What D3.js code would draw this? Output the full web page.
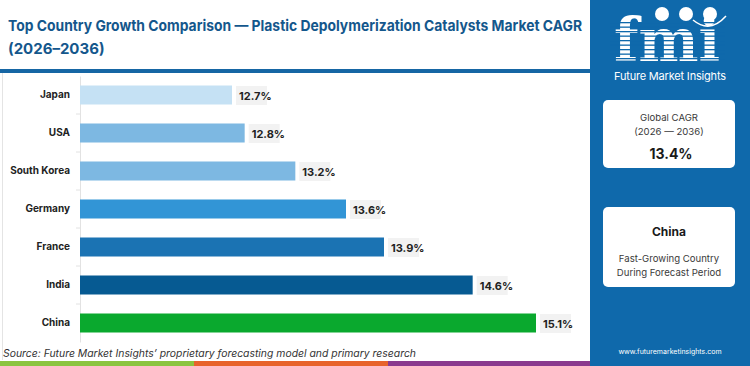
<!DOCTYPE html>
<html>
<head>
<meta charset="utf-8">
<script src="https://cdn.jsdelivr.net/npm/d3@7"></script>
<style>
  body { margin: 0; background: #fff; }
  svg { display: block; font-family: Inter, "Noto Sans", sans-serif; }
</style>
</head>
<body>
<svg id="chart" width="750" height="366"></svg>
<script>
// data
const countries = ["Japan", "USA", "South Korea", "Germany", "France", "India", "China"];
const cagr = [12.7, 12.8, 13.2, 13.6, 13.9, 14.6, 15.1];
const barColors = ["#c5e1f4", "#7db8e2", "#7db8e2", "#3295d6", "#1b73b3", "#065a92", "#0aa92e"];
const globalCagr = "13.4%";
const topCountry = "China";

const svg = d3.select("#chart");
const panelBlue = "#0f69ab";

// title
const title = svg.append("text")
  .attr("fill", "#14578c")
  .style("font-size", "15px").style("font-weight", 700);
title.append("tspan").attr("x", 8).attr("y", 31)
  .attr("textLength", 574).attr("lengthAdjust", "spacingAndGlyphs")
  .text("Top Country Growth Comparison \u2014 Plastic Depolymerization Catalysts Market CAGR");
title.append("tspan").attr("x", 8).attr("y", 54).text("(2026\u20132036)");

svg.append("rect").attr("x", 0).attr("y", 69).attr("width", 590).attr("height", 4).attr("fill", "#1666a4");
svg.append("line").attr("x1", 2.5).attr("x2", 2.5).attr("y1", 73).attr("y2", 360)
  .attr("stroke", "#e4e4e4");

// scales
const x = d3.scaleLinear().domain([11.5, 16]).range([80, 650]);
const y = d3.scaleBand().domain(countries).range([76, 342]).paddingInner(0.5).paddingOuter(0.25);

// axis
const yAxis = d3.axisLeft(y).tickSize(0).tickPadding(10);
const ga = svg.append("g").attr("transform", "translate(80,0)").call(yAxis);
ga.select(".domain").attr("stroke", "#e2e2e2");
ga.selectAll("text").attr("fill", "#222").style("font-size", "10px").style("font-weight", 700)
  .style("font-family", "Inter, sans-serif");

// small separators between bands
svg.append("g").selectAll("line")
  .data(countries.slice(1))
  .join("line")
  .attr("x1", 76).attr("x2", 80)
  .attr("y1", d => y(d) - y.step() * y.paddingInner() / 2)
  .attr("y2", d => y(d) - y.step() * y.paddingInner() / 2)
  .attr("stroke", "#e2e2e2");

// bars
svg.append("g").selectAll("rect")
  .data(countries)
  .join("rect")
  .attr("x", x(11.5))
  .attr("y", d => y(d))
  .attr("width", (d, i) => x(cagr[i]) - x(11.5))
  .attr("height", y.bandwidth())
  .attr("fill", (d, i) => barColors[i]);

// value labels
const lab = svg.append("g").selectAll("g")
  .data(countries)
  .join("g")
  .attr("transform", (d, i) => `translate(${x(cagr[i]) + 4},${y(d) + y.bandwidth() / 2})`);
lab.append("rect").attr("x", 0).attr("y", -9).attr("width", 31).attr("height", 19).attr("fill", "#f2f2f2");
lab.append("text").attr("x", 3).attr("y", 4.5)
  .attr("fill", "#222").style("font-size", "11px").style("font-weight", 700)
  .text((d, i) => cagr[i].toFixed(1) + "%");

// source
svg.append("text").attr("x", 3).attr("y", 357)
  .attr("fill", "#333").style("font-size", "10.5px").style("font-style", "italic")
  .attr("textLength", 413).attr("lengthAdjust", "spacingAndGlyphs")
  .text("Source: Future Market Insights\u2019 proprietary forecasting model and primary research");

// bottom stripe
const stripe = [["#8bc43f", 0, 194], ["#e7632b", 194, 388], ["#8a3a8e", 388, 590]];
svg.append("g").selectAll("rect").data(stripe).join("rect")
  .attr("x", d => d[1]).attr("y", 361).attr("width", d => d[2] - d[1]).attr("height", 5)
  .attr("fill", d => d[0]);

// right panel
const p = svg.append("g");
p.append("rect").attr("x", 590).attr("y", 0).attr("width", 160).attr("height", 366).attr("fill", panelBlue);

// logo
p.append("text").attr("x", 614).attr("y", 61)
  .attr("fill", "#fff").attr("textLength", 106).attr("lengthAdjust", "spacingAndGlyphs")
  .style("font-family", "'DejaVu Serif', serif").style("font-weight", 700).style("font-size", "60px")
  .text("fmi");
p.append("g").selectAll("rect").data(d3.range(22, 62, 4.5)).join("rect")
  .attr("x", 610).attr("y", d => d).attr("width", 115).attr("height", 1.3).attr("fill", panelBlue);
p.append("g").selectAll("circle").data([662, 686, 710]).join("circle")
  .attr("cx", d => d).attr("cy", 14).attr("r", 7).attr("fill", "#fff");
p.append("path").attr("d", "M693,20 Q710,34 726,16").attr("fill", "none").attr("stroke", "#fff").attr("stroke-width", 1.5);
p.append("text").attr("x", 670).attr("y", 80).attr("text-anchor", "middle")
  .attr("fill", "#fff").style("font-size", "11px").attr("textLength", 112)
  .text("Future Market Insights");

// cards
p.append("rect").attr("x", 603).attr("y", 100).attr("width", 132).attr("height", 68).attr("rx", 5).attr("fill", "#fff");
p.append("text").attr("x", 669).attr("y", 121).attr("text-anchor", "middle").attr("fill", "#3a3a3a")
  .style("font-size", "9.6px").text("Global CAGR");
p.append("text").attr("x", 669).attr("y", 135).attr("text-anchor", "middle").attr("fill", "#3a3a3a")
  .style("font-size", "9.6px").text("(2026 \u2014 2036)");
p.append("text").attr("x", 671).attr("y", 159).attr("text-anchor", "middle").attr("fill", "#1a1a1a")
  .style("font-size", "14px").style("font-weight", 700).text(globalCagr);

p.append("rect").attr("x", 603).attr("y", 207).attr("width", 132).attr("height", 80).attr("rx", 5).attr("fill", "#fff");
p.append("text").attr("x", 669).attr("y", 236).attr("text-anchor", "middle").attr("fill", "#1a1a1a")
  .style("font-size", "12px").style("font-weight", 700).text(topCountry);
p.append("text").attr("x", 669).attr("y", 262).attr("text-anchor", "middle").attr("fill", "#3a3a3a")
  .style("font-size", "9.6px").text("Fast-Growing Country");
p.append("text").attr("x", 669).attr("y", 276).attr("text-anchor", "middle").attr("fill", "#3a3a3a")
  .style("font-size", "9.6px").text("During Forecast Period");

p.append("text").attr("x", 670).attr("y", 354).attr("text-anchor", "middle").attr("fill", "#fff")
  .style("font-size", "7px").text("www.futuremarketinsights.com");
</script>
</body>
</html>
